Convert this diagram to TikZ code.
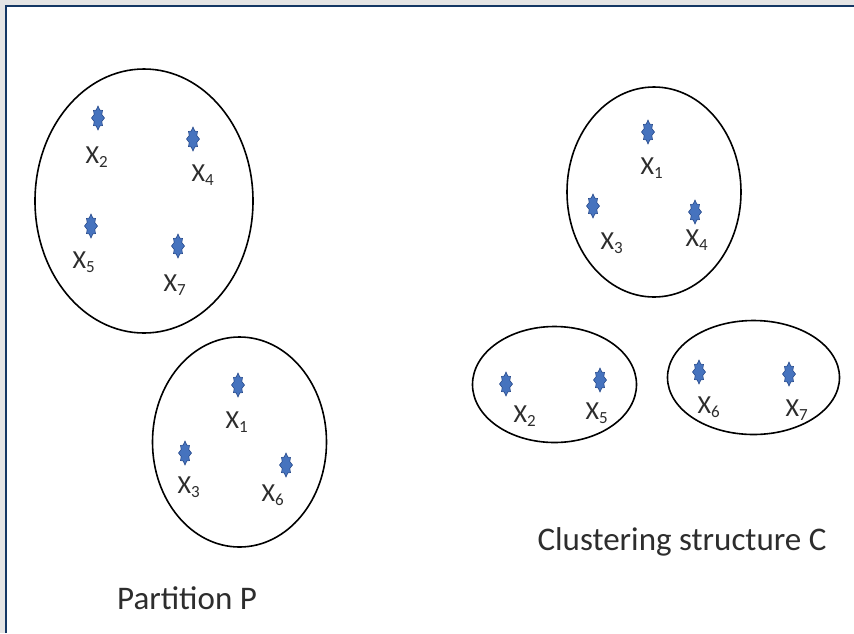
\documentclass[tikz,border=0pt]{standalone}
\usepackage{fontspec}
\setmainfont{Carlito}
\usetikzlibrary{shapes.geometric}
\definecolor{starfill}{RGB}{70,115,190}
\definecolor{starline}{RGB}{40,75,140}
\definecolor{frameblue}{RGB}{20,55,100}
\definecolor{txt}{RGB}{45,45,45}
\tikzset{
  clus/.style={draw=black, line width=1.6pt, ellipse, inner sep=0pt},
  lbl/.style={font=\fontsize{26}{26}\selectfont, text=txt, inner sep=0pt},
  captext/.style={font=\fontsize{33}{33}\selectfont, text=txt, inner sep=0pt},
  starpt/.pic={
    \fill[starfill, draw=starline, line width=0.6pt]
      (0,12) -- (1.8,8) -- (4.5,7.5) -- (3.8,3.5) -- (6.5,0) -- (3.8,-3.5) -- (4.5,-7.5) -- (1.8,-8)
      -- (0,-12) -- (-1.8,-8) -- (-4.5,-7.5) -- (-3.8,-3.5) -- (-6.5,0) -- (-3.8,3.5) -- (-4.5,7.5) -- (-1.8,8) -- cycle;
  }
}
\newcommand{\sub}[1]{X\textsubscript{\fontsize{17}{17}\selectfont #1}}
\begin{document}
\begin{tikzpicture}[x=1pt,y=-1pt]
\useasboundingbox (0,0) rectangle (854,633);
\fill[white] (0,0) rectangle (854,633);
\fill[gray!20] (0,0) rectangle (854,5);
\fill[gray!20] (0,0) rectangle (5,633);
\draw[frameblue, line width=2pt] (6,633) -- (6,6) -- (854,6);
% clusters of partition P
\node[clus, minimum width=218pt, minimum height=264pt] (e1) at (144,201) {};
\node[clus, minimum width=174pt, minimum height=210pt] (e2) at (239.5,442) {};
% clusters of structure C
\node[clus, minimum width=174pt, minimum height=210pt] (e3) at (654,192) {};
\node[clus, minimum width=164pt, minimum height=116pt] (e4) at (554.5,384.5) {};
\node[clus, minimum width=172pt, minimum height=114pt] (e5) at (753.5,377.5) {};
% points P
\pic at (98,118) {starpt}; \node[lbl] (p2) at (97,157) {\sub{2}};
\pic at (193,139) {starpt}; \node[lbl] (p4) at (203,175) {\sub{4}};
\pic at (91,226) {starpt}; \node[lbl] (p5) at (84,262) {\sub{5}};
\pic at (178,246) {starpt}; \node[lbl] (p7) at (175,285) {\sub{7}};
\pic at (238,385) {starpt}; \node[lbl] (p1) at (237,422) {\sub{1}};
\pic at (185,453) {starpt}; \node[lbl] (p3) at (189,487) {\sub{3}};
\pic at (286,465) {starpt}; \node[lbl] (p6) at (273,495) {\sub{6}};
% points C
\pic at (648,132) {starpt}; \node[lbl] (c1) at (652,168) {\sub{1}};
\pic at (593,206) {starpt}; \node[lbl] (c3) at (612,243) {\sub{3}};
\pic at (695,212) {starpt}; \node[lbl] (c4) at (697,240) {\sub{4}};
\pic at (506,384) {starpt}; \node[lbl] (c2) at (525,416) {\sub{2}};
\pic at (600,380) {starpt}; \node[lbl] (c5) at (597,413) {\sub{5}};
\pic at (699,372) {starpt}; \node[lbl] (c6) at (709,407) {\sub{6}};
\pic at (789,374) {starpt}; \node[lbl] (c7) at (797,410) {\sub{7}};
\node[captext] (tp) at (187,598) {Partition P};
\node[captext] (tc) at (682,542) {Clustering structure C};
\end{tikzpicture}
\end{document}
